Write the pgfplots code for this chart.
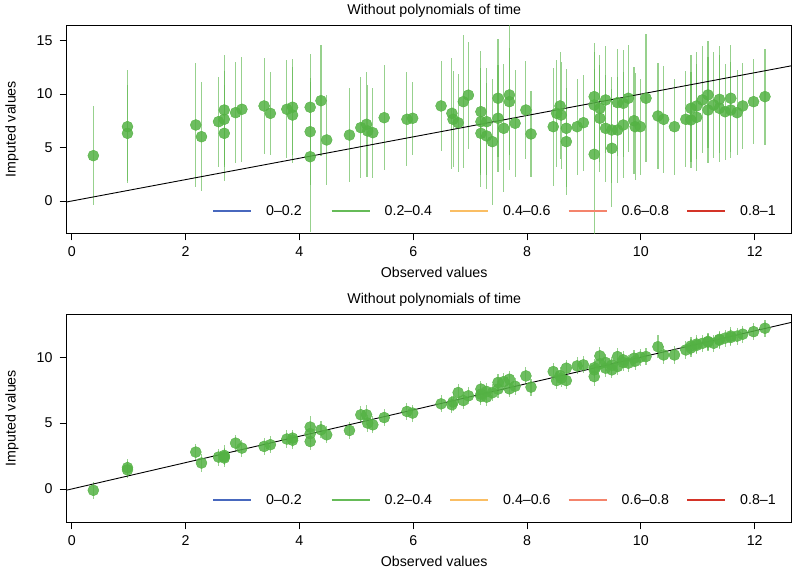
\documentclass[border=0pt]{standalone}
\usepackage{pgfplots}
\pgfplotsset{compat=1.18}
\usepackage{pgfplotstable}
\usepackage{fontspec}
\setmainfont{Liberation Sans}
\definecolor{ptgreen}{RGB}{84,178,68}
\definecolor{bargreen}{RGB}{96,184,80}
\definecolor{lgblue}{RGB}{72,104,190}
\definecolor{lggreen}{RGB}{102,187,88}
\definecolor{lgorange}{RGB}{250,190,100}
\definecolor{lgsalmon}{RGB}{244,132,108}
\definecolor{lgred}{RGB}{212,52,40}

\pgfplotstableread{
x yt et yb eb
0.38 4.24 4.6 -0.10 0.65
0.98 6.95 5.3 1.62 0.65
0.98 6.33 4.5 1.45 0.65
2.18 7.11 5.8 2.80 0.65
2.28 6.01 5.1 1.97 0.65
2.58 7.42 4.2 2.42 0.65
2.68 8.51 5.1 2.55 0.75
2.68 7.64 4.5 2.35 0.65
2.68 6.33 4.5 2.45 0.65
2.88 8.26 4.7 3.48 0.65
2.99 8.58 4.9 3.10 0.65
3.38 8.89 4.45 3.23 0.65
3.49 8.20 3.9 3.36 0.65
3.78 8.58 4.6 3.79 0.65
3.88 8.77 4.5 3.86 0.65
3.88 8.04 4.5 3.70 0.65
4.19 8.77 5.0 4.70 0.85
4.19 6.48 5.0 4.20 0.65
4.19 4.14 7.0 3.60 0.65
4.38 9.38 5.2 4.49 0.65
4.48 5.71 4.2 4.11 0.65
4.88 6.17 4.4 4.44 0.65
5.08 6.86 4.7 5.63 0.65
5.18 7.17 4.9 5.63 0.75
5.20 6.55 4.3 5.00 0.65
5.29 6.39 4.2 4.87 0.65
5.49 7.79 4.9 5.42 0.65
5.89 7.64 4.4 5.88 0.65
5.99 7.74 3.4 5.76 0.65
6.49 8.89 4.2 6.46 0.65
6.68 8.20 5.2 6.39 0.65
6.70 7.64 4.5 6.60 0.65
6.79 7.32 4.6 7.32 0.65
6.88 9.29 6.2 6.71 0.65
6.97 9.90 5.0 7.07 0.65
7.19 8.35 5.7 7.58 0.65
7.19 7.42 5.0 7.02 0.65
7.19 6.33 5.0 7.20 0.65
7.29 7.42 5.0 6.97 0.65
7.29 6.08 5.0 7.40 0.65
7.39 5.55 5.9 7.30 0.65
7.49 9.61 5.5 8.08 0.65
7.49 7.74 5.0 7.58 0.65
7.59 6.80 6.0 8.15 0.65
7.69 9.92 7.0 7.60 0.65
7.69 9.29 5.0 8.33 0.65
7.79 7.27 5.0 7.80 0.65
7.98 8.51 4.6 8.58 0.65
8.07 6.27 4.0 7.73 0.65
8.46 6.95 5.5 8.91 0.65
8.52 8.20 5.0 8.23 0.65
8.58 8.89 5.0 8.60 0.65
8.60 8.04 5.0 8.40 0.65
8.69 6.80 5.5 9.17 0.65
8.69 5.55 5.0 8.23 0.65
8.88 6.95 4.5 9.34 0.65
8.99 7.32 4.5 9.42 0.65
9.18 4.37 8.0 9.04 0.65
9.18 9.76 5.0 8.53 0.75
9.18 8.98 5.0 9.20 0.65
9.28 7.74 5.0 10.10 0.65
9.28 8.67 5.0 9.50 0.65
9.38 6.80 5.0 9.17 0.65
9.38 9.45 5.0 9.60 0.65
9.49 4.93 5.5 9.04 0.65
9.49 6.64 5.0 9.40 0.65
9.59 6.64 5.0 10.05 0.65
9.59 9.20 5.0 9.29 0.65
9.69 7.11 5.0 9.60 0.65
9.69 9.14 5.0 9.80 0.65
9.78 9.61 5.0 9.55 0.65
9.88 7.51 5.0 9.92 0.65
9.90 6.95 5.0 9.70 0.65
9.99 6.95 4.5 10.00 0.65
10.09 9.61 6.0 10.05 0.65
10.30 7.95 5.0 10.80 0.85
10.40 7.64 5.0 10.17 0.65
10.59 6.95 4.5 10.17 0.65
10.79 7.64 4.5 10.55 0.65
10.88 7.58 4.5 10.70 0.65
10.88 8.67 5.0 10.85 0.65
10.98 7.83 5.0 10.90 0.65
10.98 8.89 5.0 11.00 0.65
11.08 9.45 5.0 11.05 0.65
11.18 9.92 5.0 11.15 0.65
11.18 8.51 5.0 11.20 0.65
11.28 8.98 5.0 11.06 0.65
11.38 9.51 5.0 11.36 0.65
11.38 8.67 5.0 11.30 0.65
11.48 8.35 4.5 11.45 0.65
11.58 9.61 5.0 11.61 0.65
11.58 8.51 4.5 11.50 0.65
11.69 8.26 4.0 11.60 0.65
11.79 8.89 4.0 11.75 0.65
11.98 9.29 4.0 11.94 0.65
12.18 9.76 4.5 12.20 0.65
}\data

\pgfplotsset{
  myax/.style={
    anchor=north west,
    scale only axis, width=725bp, height=208.3bp,
    xmin=-0.088, xmax=12.65,
    xtick={0,2,4,6,8,10,12},
    /pgf/number format/assume math mode=true,
    axis line style={line width=0.8bp},
    tick align=outside, tick pos=left,
    major tick length=7bp,
    tick style={black, line width=0.8bp},
    xticklabel style={inner sep=0pt, yshift=-6bp},
    yticklabel style={inner sep=0pt, xshift=-7bp},
    title={Without polynomials of time},
    xlabel={Observed values},
    ylabel={Imputed values},
    every axis title/.style={at={(axis description cs:0.5,1)}, anchor=center, yshift=14.5bp, xshift=5bp},
    every axis x label/.style={at={(axis description cs:0.5,0)}, anchor=center, yshift=-39.5bp, xshift=5bp},
    every axis y label/.style={at={(axis description cs:0,0.5)}, anchor=center, rotate=90, yshift=54.7bp},
  },
  ebars/.style={draw=none, mark=none, forget plot,
    error bars/.cd, y dir=both, y explicit,
    error mark=none,
    error bar style={draw=bargreen, line width=1.1bp, draw opacity=0.65}},
  pts/.style={only marks, mark=*, mark size=5.5bp, forget plot, color=ptgreen,
    mark options={draw=none, fill=ptgreen, fill opacity=0.85}},
}

\newcommand{\mylegend}[1]{%
  \foreach \c/\t [count=\i from 0] in {lgblue/0–0.2, lggreen/0.2–0.4, lgorange/0.4–0.6, lgsalmon/0.6–0.8, lgred/0.8–1}{
    \draw[draw=\c, line width=1.1bp] ([xshift=146.3bp+\i*118.5bp, yshift=22.3bp]#1.south west) -- ++(38bp,0);
    \node[anchor=west, inner sep=0pt] at ([xshift=146.3bp+53bp+\i*118.5bp, yshift=22.3bp]#1.south west) {\t};
  }%
}

\begin{document}
\fontsize{14.2bp}{17bp}\selectfont
\begin{tikzpicture}
\path[use as bounding box] (-66.7bp,-550bp) rectangle (729.3bp,25bp);
\begin{axis}[myax, name=top, at={(0,0)}, ymin=-3.02, ymax=16.46, ytick={0,5,10,15}]
  \addplot[ebars] table[x=x, y=yt, y error=et] {\data};
  \addplot[pts] table[x=x, y=yt] {\data};
  \addplot[black, line width=0.9bp, forget plot] coordinates {(-0.088,-0.088) (12.65,12.65)};
\end{axis}
\mylegend{top}
\begin{axis}[myax, name=bot, at={(0,-289bp)}, ymin=-2.53, ymax=13.28, ytick={0,5,10}]
  \addplot[ebars] table[x=x, y=yb, y error=eb] {\data};
  \addplot[pts] table[x=x, y=yb] {\data};
  \addplot[black, line width=0.9bp, forget plot] coordinates {(-0.088,-0.088) (12.65,12.65)};
\end{axis}
\mylegend{bot}
\end{tikzpicture}
\end{document}
